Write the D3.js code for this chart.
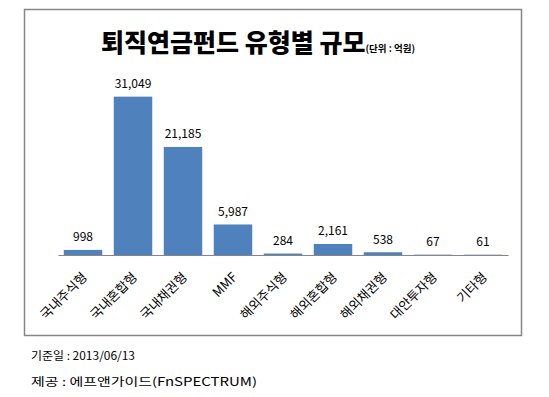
<!DOCTYPE html>
<html>
<head>
<meta charset="utf-8">
<script src="https://cdn.jsdelivr.net/npm/d3@7"></script>
<style>
    body { margin: 0; background: #fff; }
    text { font-family: "Noto Sans CJK KR", "Noto Sans", sans-serif; }
</style>
</head>
<body>
<div id="chart"></div>
<script>
const categories = ['국내주식형', '국내혼합형', '국내채권형', 'MMF', '해외주식형', '해외혼합형', '해외채권형', '대안투자형', '기타형'];
const values = [998, 31049, 21185, 5987, 284, 2161, 538, 67, 61];
const footnotes = ['기준일 : 2013/06/13', '제공 : 에프앤가이드(FnSPECTRUM)'];

const W = 549, H = 397;
const svg = d3.select('#chart').append('svg')
    .attr('width', W)
    .attr('height', H);

// chart frame
svg.append('rect')
    .attr('x', 24.5).attr('y', 9.5)
    .attr('width', 497).attr('height', 326)
    .attr('fill', '#fff')
    .attr('stroke', '#868686')
    .attr('stroke-width', 1.5);

// title
const title = svg.append('text')
    .attr('x', 101)
    .attr('y', 52)
    .attr('fill', '#000');
title.append('tspan')
    .attr('font-size', 25)
    .attr('font-weight', 900)
    .text('퇴직연금펀드 유형별 규모');
title.append('tspan')
    .attr('font-size', 9.5)
    .attr('font-weight', 'bold')
    .text('(단위 : 억원)');

const x = d3.scaleBand()
    .domain(categories)
    .range([58, 508])
    .paddingInner(0.23)
    .paddingOuter(0.115);

const y = d3.scaleLinear()
    .domain([0, 35000])
    .range([255, 76.5]);

svg.selectAll('.bar')
    .data(values)
    .enter()
    .append('rect')
    .attr('class', 'bar')
    .attr('x', (d, i) => x(categories[i]))
    .attr('y', d => y(d))
    .attr('width', x.bandwidth())
    .attr('height', d => y(0) - y(d))
    .attr('fill', '#4f81bd');

// value labels
svg.selectAll('.val')
    .data(values)
    .enter()
    .append('text')
    .attr('class', 'val')
    .attr('x', (d, i) => x(categories[i]) + x.bandwidth() / 2)
    .attr('y', d => y(d) - 8.5)
    .attr('text-anchor', 'middle')
    .attr('font-size', 12)
    .attr('fill', '#000')
    .text(d => d3.format(',')(d));

// x axis
const xAxis = d3.axisBottom(x).tickSize(0).tickPadding(0);
const gx = svg.append('g')
    .attr('transform', `translate(0,${y(0)})`)
    .call(xAxis);
gx.select('.domain').attr('stroke', '#868686').attr('stroke-width', 1.2);
gx.selectAll('.tick text')
    .attr('font-size', 13)
    .attr('fill', '#000')
    .attr('text-anchor', 'end')
    .attr('dy', 0)
    .attr('transform', 'translate(5,23) rotate(-45)');

// footnotes
const noteWidths = [104, 226];
svg.selectAll('.note')
    .data(footnotes)
    .enter()
    .append('text')
    .attr('class', 'note')
    .attr('x', 31)
    .attr('y', (d, i) => 359.5 + i * 26)
    .attr('font-size', 11.5)
    .attr('font-family', '"DejaVu Sans", "Noto Sans CJK KR", sans-serif')
    .attr('textLength', (d, i) => noteWidths[i])
    .attr('lengthAdjust', 'spacingAndGlyphs')
    .attr('fill', '#000')
    .text(d => d);
</script>
</body>
</html>
